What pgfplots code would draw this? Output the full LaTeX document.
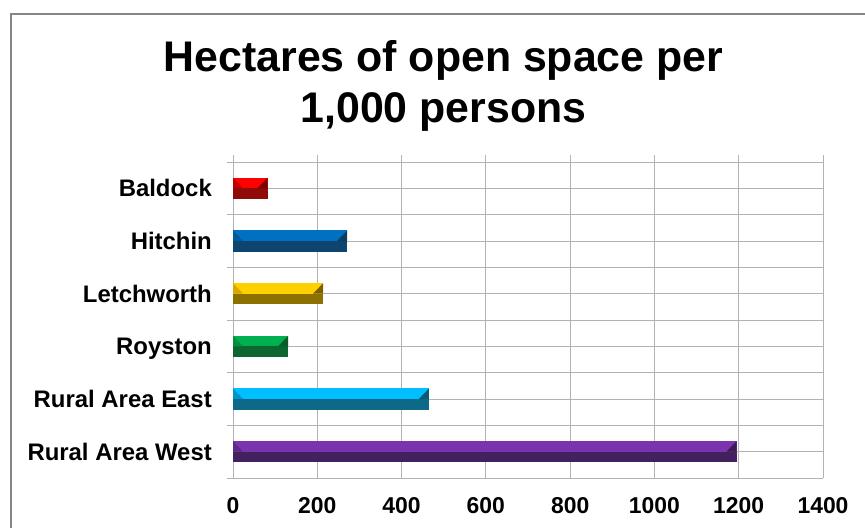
\documentclass[border=0pt]{standalone}
\usepackage{fontspec}
\setmainfont{Liberation Sans}
\usepackage{pgfplots}
\pgfplotsset{compat=1.18}

% bar colours: light top, dark bottom, left and right bevel
\definecolor{redL}{RGB}{255,0,0}     \definecolor{redD}{RGB}{144,10,10}
\definecolor{redE}{RGB}{192,0,0}     \definecolor{redR}{RGB}{122,0,0}
\definecolor{bluL}{RGB}{0,112,192}   \definecolor{bluD}{RGB}{14,68,112}
\definecolor{bluE}{RGB}{0,90,158}    \definecolor{bluR}{RGB}{10,60,100}
\definecolor{yelL}{RGB}{255,208,0}   \definecolor{yelD}{RGB}{140,112,0}
\definecolor{yelE}{RGB}{217,168,0}   \definecolor{yelR}{RGB}{122,96,0}
\definecolor{grnL}{RGB}{0,176,80}    \definecolor{grnD}{RGB}{11,102,48}
\definecolor{grnE}{RGB}{0,144,64}    \definecolor{grnR}{RGB}{10,90,42}
\definecolor{cyaL}{RGB}{0,191,255}   \definecolor{cyaD}{RGB}{14,104,135}
\definecolor{cyaE}{RGB}{0,149,200}   \definecolor{cyaR}{RGB}{12,90,117}
\definecolor{purL}{RGB}{122,53,174}  \definecolor{purD}{RGB}{67,33,94}
\definecolor{purE}{RGB}{94,42,136}   \definecolor{purR}{RGB}{58,28,82}
\definecolor{gridgray}{RGB}{178,178,178}
\definecolor{framegray}{RGB}{134,134,134}

\newcommand\halfbars[4]{% value, position, light, dark
  \addplot[xbar, bar width=0.2, bar shift=0.1, fill=#3, draw=none] coordinates {(#1,#2)};
  \addplot[xbar, bar width=0.2, bar shift=-0.1, fill=#4, draw=none] coordinates {(#1,#2)};
}

\begin{document}
\begin{tikzpicture}
\useasboundingbox (0,0) rectangle (865bp,528bp);
\draw[line width=1.5bp, framegray] (11bp,-1bp) -- (11bp,514bp) -- (866bp,514bp);

\node[anchor=base, font=\bfseries\fontsize{43}{43}\selectfont] at (443.5bp,456bp) {Hectares of open space per};
\node[anchor=base, font=\bfseries\fontsize{43}{43}\selectfont] at (443.5bp,405bp) {1,000 persons};

\begin{axis}[
  at={(233bp,50bp)}, anchor=south west,
  scale only axis, width=590bp, height=323bp,
  xmin=0, xmax=1400, ymin=-0.5, ymax=5.633,
  axis line style={draw=none},
  xtick={0,200,...,1400},
  ytick={0,...,5},
  yticklabels={Rural Area West, Rural Area East, Royston, Letchworth, Hitchin, Baldock},
  minor ytick={-0.5,0.5,...,5.5},
  grid=both,
  major grid style={gridgray, line width=0.9bp},
  minor grid style={gridgray, line width=0.9bp},
  tick align=outside, major tick length=0pt, minor tick length=6bp,
  ytick pos=left, xtick pos=bottom,
  minor tick style={gridgray, line width=0.9bp},
  /pgf/number format/assume math mode=true,
  /pgf/number format/1000 sep={},
  ticklabel style={font=\bfseries\fontsize{23}{23}\selectfont, inner sep=0pt},
  yticklabel style={font=\bfseries\fontsize{24}{24}\selectfont, anchor=east, text depth=0pt, xshift=-21bp},
  xticklabel style={anchor=north, yshift=-19bp},
]
\halfbars{82}{5}{redL}{redD}
\halfbars{271}{4}{bluL}{bluD}
\halfbars{214}{3}{yelL}{yelD}
\halfbars{131}{2}{grnL}{grnD}
\halfbars{465}{1}{cyaL}{cyaD}
\halfbars{1195}{0}{purL}{purD}
% bevel wedges at the bar ends
\addplot[fill=redE, draw=none] coordinates {(0,5.2) (0,5) (24,5)} -- cycle;
\addplot[fill=redR, draw=none] coordinates {(82,5.2) (82,5) (58,5)} -- cycle;
\addplot[fill=bluE, draw=none] coordinates {(0,4.2) (0,4) (24,4)} -- cycle;
\addplot[fill=bluR, draw=none] coordinates {(271,4.2) (271,4) (247,4)} -- cycle;
\addplot[fill=yelE, draw=none] coordinates {(0,3.2) (0,3) (24,3)} -- cycle;
\addplot[fill=yelR, draw=none] coordinates {(214,3.2) (214,3) (190,3)} -- cycle;
\addplot[fill=grnE, draw=none] coordinates {(0,2.2) (0,2) (24,2)} -- cycle;
\addplot[fill=grnR, draw=none] coordinates {(131,2.2) (131,2) (107,2)} -- cycle;
\addplot[fill=cyaE, draw=none] coordinates {(0,1.2) (0,1) (24,1)} -- cycle;
\addplot[fill=cyaR, draw=none] coordinates {(465,1.2) (465,1) (441,1)} -- cycle;
\addplot[fill=purE, draw=none] coordinates {(0,0.2) (0,0) (24,0)} -- cycle;
\addplot[fill=purR, draw=none] coordinates {(1195,0.2) (1195,0) (1171,0)} -- cycle;
\end{axis}
\end{tikzpicture}
\end{document}
